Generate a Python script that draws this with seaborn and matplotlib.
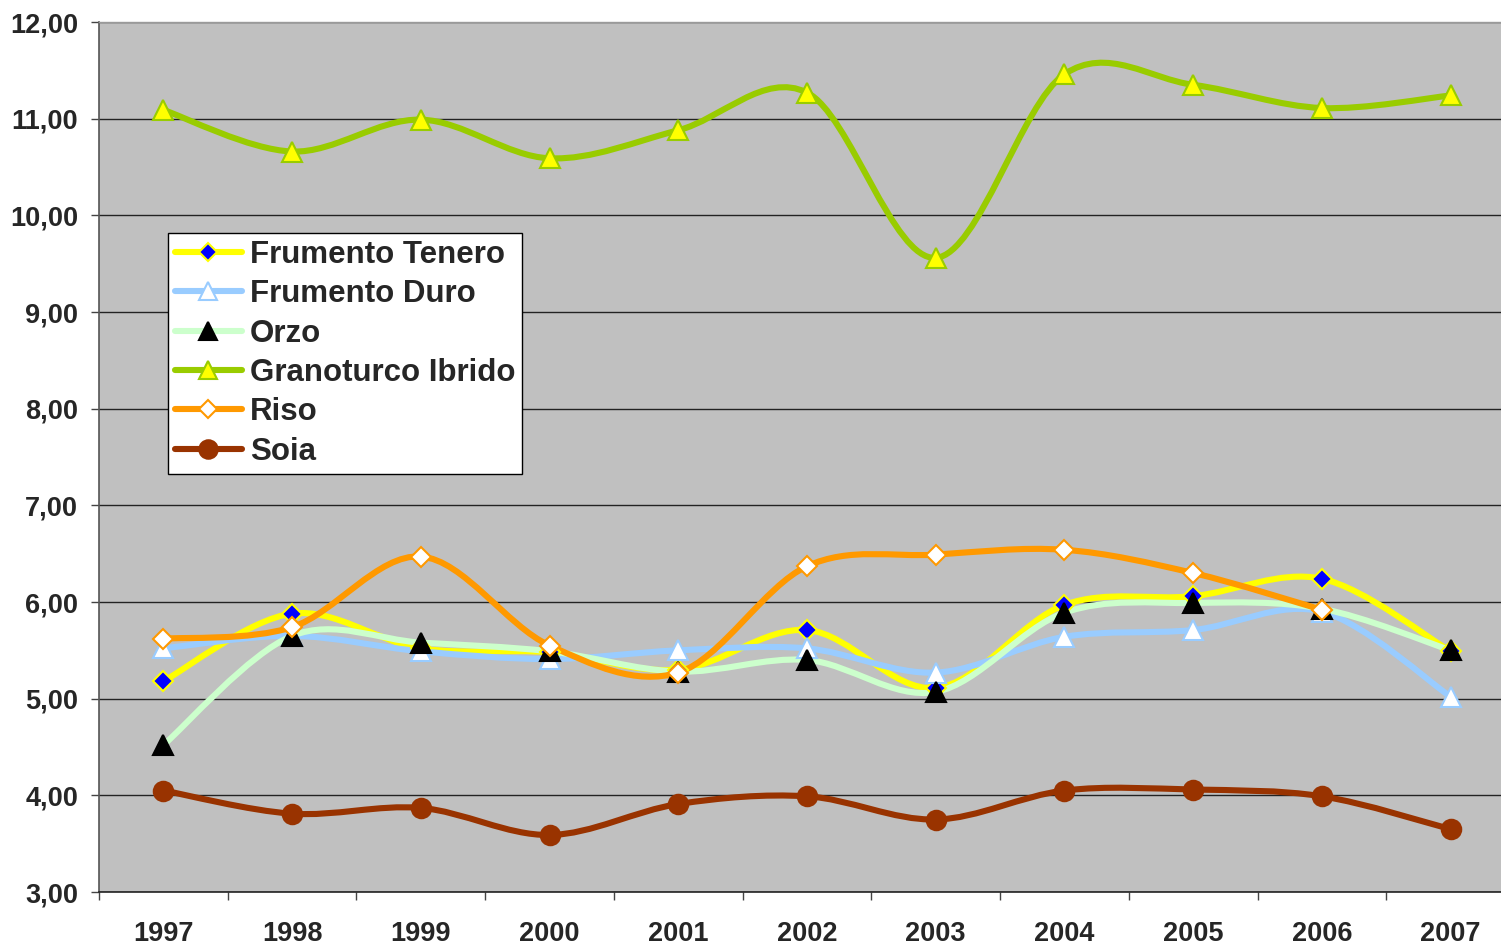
import numpy as np
import pandas as pd
import seaborn as sns
import matplotlib.pyplot as plt
from matplotlib.path import Path
from matplotlib.patches import PathPatch
from matplotlib.lines import Line2D

# values
anni = ["1997", "1998", "1999", "2000", "2001", "2002", "2003", "2004", "2005", "2006", "2007"]
frumento_tenero = [5.18, 5.88, 5.52, 5.48, 5.30, 5.71, 5.11, 5.97, 6.06, 6.24, 5.49]
frumento_duro = [5.52, 5.65, 5.49, 5.41, 5.50, 5.52, 5.27, 5.64, 5.71, 5.90, 5.02]
orzo = [4.52, 5.65, 5.58, 5.49, 5.28, 5.40, 5.07, 5.89, 5.99, 5.93, 5.50]
granoturco = [11.09, 10.66, 10.99, 10.59, 10.88, 11.27, 9.56, 11.46, 11.35, 11.11, 11.24]
riso = [5.62, 5.74, 6.47, 5.55, 5.27, 6.37, 6.49, 6.54, 6.30, 5.92, np.nan]
soia = [4.05, 3.81, 3.87, 3.59, 3.91, 3.99, 3.75, 4.05, 4.06, 3.99, 3.65]

series = [
    # name, values, line colour, marker, face, edge, size
    ("Frumento Tenero", frumento_tenero, "#FFFF00", "D", "#0000FF", "#FFFF00", 10),
    ("Frumento Duro", frumento_duro, "#99CCFF", "^", "#FFFFFF", "#99CCFF", 14),
    ("Orzo", orzo, "#CCFFCC", "^", "#000000", "#000000", 14),
    ("Granoturco Ibrido", granoturco, "#99CC00", "^", "#FFFF00", "#99CC00", 14),
    ("Riso", riso, "#FF9900", "D", "#FFFFFF", "#FF9900", 10),
    ("Soia", soia, "#993300", "o", "#993300", "#993300", 14),
]


def smooth_path(xs, ys):
    # Excel style smoothed line: Catmull-Rom segments as cubic Bezier
    pts = np.column_stack([xs, ys])
    n = len(pts)
    verts = [pts[0]]
    codes = [Path.MOVETO]
    for i in range(n - 1):
        p0 = pts[i - 1] if i > 0 else pts[i]
        p1, p2 = pts[i], pts[i + 1]
        p3 = pts[i + 2] if i + 2 < n else pts[i + 1]
        verts += [p1 + (p2 - p0) / 6, p2 - (p3 - p1) / 6, p2]
        codes += [Path.CURVE4] * 3
    return Path(verts, codes)


sns.set_theme(style="white")
plt.rcParams["font.family"] = ["Liberation Sans", "DejaVu Sans"]
plt.rcParams["font.weight"] = "bold"

fig = plt.figure(figsize=(15.01, 9.46), dpi=100)
ax = fig.add_axes([99 / 1501, 1 - 892 / 946, 1416 / 1501, 870 / 946])
ax.set_facecolor("#C0C0C0")

x = np.arange(len(anni))
handles = []
for k, (name, vals, col, mk, fc, ec, ms) in enumerate(series):
    df = pd.DataFrame({"x": x, "y": vals}).dropna()
    patch = PathPatch(smooth_path(df["x"].values.astype(float), df["y"].values),
                      fill=False, edgecolor=col, lw=4.4, capstyle="round",
                      joinstyle="round", zorder=2 + k * 0.01)
    ax.add_patch(patch)
    sns.lineplot(data=df, x="x", y="y", ax=ax, linestyle="", marker=mk,
                 markersize=ms, markerfacecolor=fc, markeredgecolor=ec,
                 markeredgewidth=1.5, color=col, zorder=3 + k * 0.01)
    handles.append(Line2D([], [], color=col, lw=4.4, marker=mk, markersize=ms * 0.95,
                          markerfacecolor=fc, markeredgecolor=ec, markeredgewidth=1.5,
                          solid_capstyle="round", label=name))

ax.set_xlim(-0.5, len(anni) - 0.5)
ax.set_ylim(3, 12)
ax.set_xlabel("")
ax.set_ylabel("")

ax.set_yticks(np.arange(3, 13, 1))
ax.set_yticklabels([f"{v:.2f}".replace(".", ",") for v in np.arange(3, 13, 1)])
ax.yaxis.grid(True, color="#222222", lw=1.0)
ax.set_axisbelow(True)

ax.set_xticks(np.arange(-0.5, len(anni), 1))
ax.set_xticklabels([])
ax.set_xticks(x, minor=True)
ax.set_xticklabels(anni, minor=True)

ax.tick_params(axis="y", which="major", direction="out", length=6, width=1,
               color="#444444", labelsize=19.5, pad=9, left=True)
ax.tick_params(axis="x", which="major", direction="out", length=6, width=1,
               color="#444444", bottom=True)
ax.tick_params(axis="x", which="minor", length=0, labelsize=19.5, pad=21)

ax.spines["right"].set_visible(False)
ax.spines["top"].set_color("#9A9A9A")
ax.spines["top"].set_linewidth(1)
ax.spines["left"].set_color("#555555")
ax.spines["left"].set_linewidth(1.2)
ax.spines["bottom"].set_color("#222222")
ax.spines["bottom"].set_linewidth(1.2)

leg = ax.legend(handles=handles, loc="upper left", bbox_to_anchor=(0.0487, 0.7575),
                borderaxespad=0, fontsize=22.5, frameon=True, fancybox=False,
                edgecolor="#000000", framealpha=1, handlelength=2.15,
                handletextpad=0.25, labelspacing=0.3, borderpad=0.22)
leg.get_frame().set_linewidth(1.0)
for t in leg.get_texts():
    t.set_fontweight("bold")

fig.savefig("out.png", dpi=100)
